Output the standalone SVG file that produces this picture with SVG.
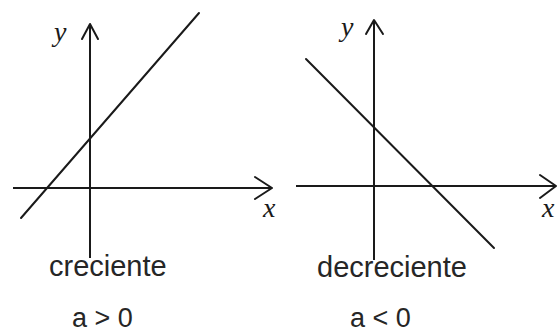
<svg xmlns="http://www.w3.org/2000/svg" width="557" height="332" viewBox="0 0 557 332">
<style>
.ln{stroke:#1a1a1a;stroke-width:2;fill:none;stroke-linecap:round;stroke-linejoin:round}
.ax{stroke:#1a1a1a;stroke-width:2;fill:none}
.lab{font-family:"Liberation Serif","Times New Roman",serif;font-style:italic;font-size:28px;fill:#1a1a1a}
.txt{font-family:"Liberation Sans",Arial,sans-serif;font-size:29px;fill:#262626}
.cond{font-family:"Liberation Sans",Arial,sans-serif;font-size:27px;fill:#262626}
</style>
<rect width="557" height="332" fill="#ffffff"/>
<g id="left-graph">
  <line class="ax" x1="13" y1="188" x2="272" y2="188"/>
  <polyline class="ln" points="255,177 272,188 255,199"/>
  <line class="ax" x1="90" y1="24" x2="90" y2="258"/>
  <polyline class="ln" points="82,39 90,24 98,39"/>
  <line class="ln" x1="21" y1="218" x2="199" y2="13"/>
  <text class="lab" x="54" y="41">y</text>
  <text class="lab" x="263" y="217">x</text>
  <text class="txt" x="49" y="276">creciente</text>
  <text class="cond" x="72" y="327">a &gt; 0</text>
</g>
<g id="right-graph">
  <line class="ax" x1="296" y1="186" x2="556" y2="186"/>
  <polyline class="ln" points="540,175 556,186 540,198"/>
  <line class="ax" x1="374" y1="20" x2="374" y2="260"/>
  <polyline class="ln" points="366,34 374,20 383,34"/>
  <line class="ln" x1="306" y1="59" x2="494" y2="248"/>
  <text class="lab" x="341" y="36">y</text>
  <text class="lab" x="542" y="217">x</text>
  <text class="txt" x="317" y="277">decreciente</text>
  <text class="cond" x="350" y="327">a &lt; 0</text>
</g>
<g id="connectors"></g>
</svg>
